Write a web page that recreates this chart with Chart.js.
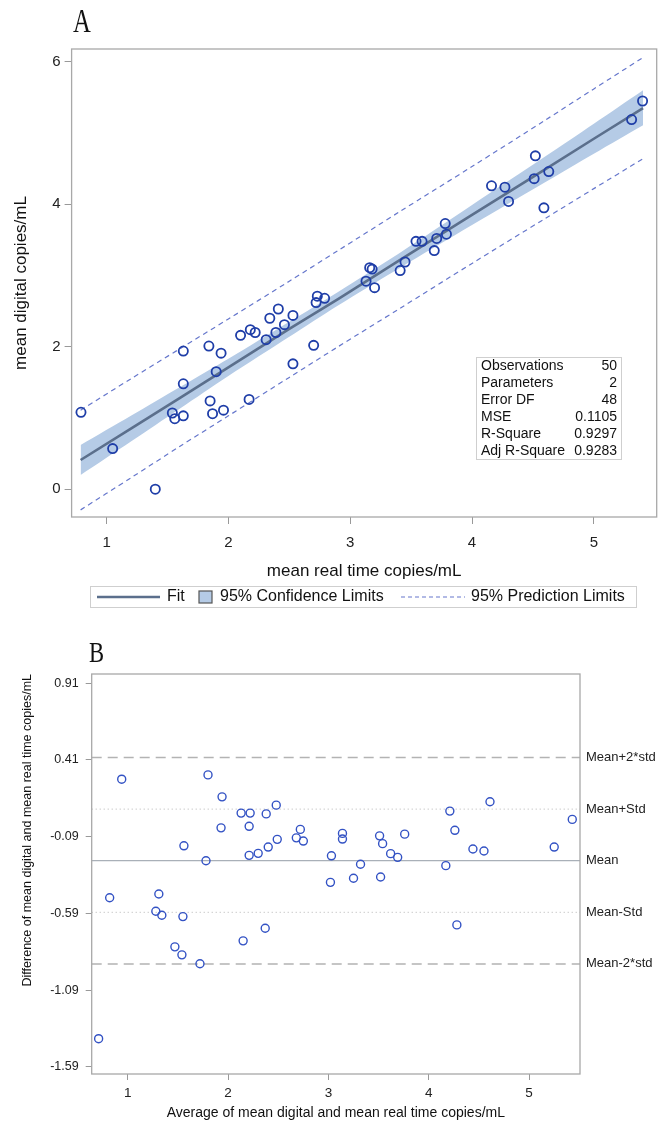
<!DOCTYPE html>
<html><head><meta charset="utf-8">
<script src="https://cdn.jsdelivr.net/npm/chart.js@4.4.1/dist/chart.umd.min.js"></script>
<style>
html,body{margin:0;padding:0;background:#fff;width:665px;height:1124px;overflow:hidden}
canvas{position:absolute;left:0}
#ca{top:0}
#cb{top:615px}
</style></head>
<body>
<canvas id="ca" width="665" height="615"></canvas>
<canvas id="cb" width="665" height="509"></canvas>
<script>
// ---------- Panel A data ----------
const realA = [0.79,1.05,1.40,1.54,1.56,1.63,1.63,1.63,1.84,1.94,1.90,1.85,1.87,1.96,2.10,2.18,2.22,2.34,2.31,2.39,2.46,2.17,2.53,2.70,2.41,2.53,2.73,2.79,2.72,3.13,3.20,3.16,3.18,3.41,3.45,3.54,3.59,3.69,3.71,3.78,3.79,4.16,4.27,4.30,4.51,4.52,4.59,4.63,5.31,5.40];
const digitalA = [1.08,0.57,0.00,1.07,0.99,1.03,1.48,1.94,2.01,1.91,1.65,1.24,1.06,1.11,2.16,2.24,2.20,2.40,2.10,2.20,2.31,1.26,1.76,2.02,2.53,2.44,2.71,2.68,2.62,2.92,2.83,3.11,3.09,3.07,3.19,3.48,3.48,3.35,3.52,3.73,3.58,4.26,4.24,4.04,4.36,4.68,3.95,4.46,5.19,5.45];
const fitX    = [0.787,1.2,1.6,2.0,2.5,2.9,3.4,4.0,4.6,5.0,5.404];
const fitY    = [0.41,0.85,1.28,1.71,2.25,2.67,3.21,3.85,4.49,4.92,5.35];
const clLower = [0.20,0.67,1.13,1.59,2.14,2.58,3.10,3.71,4.31,4.71,5.11];
const clUpper = [0.62,1.03,1.43,1.83,2.35,2.77,3.31,3.99,4.67,5.13,5.60];
const plLower = [-0.29,0.16,0.60,1.03,1.57,2.00,2.53,3.17,3.80,4.22,4.64];
const plUpper = [1.11,1.55,1.97,2.39,2.92,3.35,3.89,4.53,5.18,5.62,6.06];
const xTicksA = [1,2,3,4,5];
const yTicksA = [0,2,4,6];
const statLabels = ['Observations','Parameters','Error DF','MSE','R-Square','Adj R-Square'];
const statValues = ['50','2','48','0.1105','0.9297','0.9283'];
const legendLabelsA = ['Fit','95% Confidence Limits','95% Prediction Limits'];

// ---------- Panel B data ----------
const avgB = [0.94,1.80,1.94,2.13,2.22,2.38,2.48,1.93,2.21,2.72,3.14,3.14,1.56,1.78,2.21,2.30,2.40,2.49,2.68,2.75,3.03,3.02,3.25,3.32,0.82,1.31,1.28,1.34,1.55,2.37,2.15,1.47,1.54,1.72,0.71,4.61,4.21,5.43,4.26,3.51,3.76,3.54,4.44,4.55,5.25,3.62,3.69,4.17,3.52,4.28];
const diffB = [0.284,0.312,0.169,0.063,0.063,0.058,0.115,-0.033,-0.023,-0.043,-0.069,-0.106,-0.150,-0.247,-0.212,-0.199,-0.158,-0.108,-0.098,-0.119,-0.215,-0.388,-0.361,-0.270,-0.488,-0.464,-0.576,-0.602,-0.611,-0.687,-0.769,-0.808,-0.860,-0.918,-1.406,0.137,0.076,0.022,-0.049,-0.085,-0.074,-0.136,-0.171,-0.184,-0.158,-0.201,-0.225,-0.279,-0.353,-0.665];
const refValuesB = [0.425,0.089,-0.247,-0.583,-0.919];
const refLabelsB = ['Mean+2*std','Mean+Std','Mean','Mean-Std','Mean-2*std'];
const xTicksB = [1,2,3,4,5];
const yTicksB = [-1.59,-1.09,-0.59,-0.09,0.41,0.91];

const FAM = '"Liberation Sans", Arial, sans-serif';
Chart.defaults.font.family = FAM;
Chart.defaults.color = '#333';

const pts = (xs, ys) => xs.map((x, i) => ({x, y: ys[i]}));

// ---------- Panel A ----------
const extrasA = {
  id: 'extrasA',
  afterDraw(chart) {
    const {ctx, chartArea: ca} = chart;
    ctx.save();
    ctx.strokeStyle = '#a8a8a8'; ctx.lineWidth = 1.3;
    ctx.strokeRect(ca.left, ca.top, ca.right - ca.left, ca.bottom - ca.top);
    // panel letter
    ctx.save();
    ctx.translate(73, 32); ctx.scale(0.75, 1);
    ctx.font = '33px "Liberation Serif", serif'; ctx.fillStyle = '#111';
    ctx.textBaseline = 'alphabetic'; ctx.fillText('A', 0, 0);
    ctx.restore();
    // stats box
    ctx.fillStyle = '#fff';
    ctx.fillRect(476, 357, 145, 102);
    ctx.strokeStyle = '#cfcfcf'; ctx.lineWidth = 1;
    ctx.strokeRect(476.5, 357.5, 145, 102);
    ctx.font = '14px ' + FAM; ctx.fillStyle = '#111'; ctx.textBaseline = 'middle';
    statLabels.forEach((t, i) => {
      const y = 366.5 + i * 17;
      ctx.textAlign = 'left'; ctx.fillText(t, 481, y);
      ctx.textAlign = 'right'; ctx.fillText(statValues[i], 617, y);
    });
    // legend
    ctx.strokeStyle = '#cfcfcf'; ctx.lineWidth = 1;
    ctx.strokeRect(90.5, 586.5, 546, 21);
    const ly = 597;
    ctx.strokeStyle = '#5b6f8c'; ctx.lineWidth = 2.5;
    ctx.beginPath(); ctx.moveTo(97, ly); ctx.lineTo(160, ly); ctx.stroke();
    ctx.fillStyle = '#b5cbe6'; ctx.fillRect(199, 591, 13, 12);
    ctx.strokeStyle = '#555'; ctx.lineWidth = 1.2; ctx.strokeRect(199, 591, 13, 12);
    ctx.strokeStyle = '#6677cc'; ctx.lineWidth = 1.2; ctx.setLineDash([4, 3]);
    ctx.beginPath(); ctx.moveTo(401, ly); ctx.lineTo(465, ly); ctx.stroke();
    ctx.setLineDash([]);
    ctx.font = '16px ' + FAM; ctx.fillStyle = '#111'; ctx.textAlign = 'left'; ctx.textBaseline = 'middle';
    ctx.fillText(legendLabelsA[0], 167, ly);
    ctx.fillText(legendLabelsA[1], 220, ly);
    ctx.fillText(legendLabelsA[2], 471, ly);
    ctx.restore();
  }
};

new Chart(document.getElementById('ca'), {
  type: 'scatter',
  data: {
    datasets: [
      { label: 'obs', data: pts(realA, digitalA), showLine: false, pointRadius: 4.6, pointHoverRadius: 4.6,
        pointBorderWidth: 1.8, borderColor: '#1f3ea8', backgroundColor: 'rgba(0,0,0,0)' },
      { label: 'Fit', data: pts(fitX, fitY), showLine: true, borderColor: '#5b6f8c', borderWidth: 2.6,
        pointRadius: 0, fill: false },
      { label: 'plU', data: pts(fitX, plUpper), showLine: true, borderColor: '#6677cc', borderWidth: 1.2,
        borderDash: [5, 4], pointRadius: 0, fill: false, tension: 0.3 },
      { label: 'plL', data: pts(fitX, plLower), showLine: true, borderColor: '#6677cc', borderWidth: 1.2,
        borderDash: [5, 4], pointRadius: 0, fill: false, tension: 0.3 },
      { label: 'clU', data: pts(fitX, clUpper), showLine: true, borderWidth: 0, borderColor: 'rgba(0,0,0,0)',
        backgroundColor: '#b5cbe6', pointRadius: 0, fill: '+1', tension: 0.3 },
      { label: 'clL', data: pts(fitX, clLower), showLine: true, borderWidth: 0, borderColor: 'rgba(0,0,0,0)',
        pointRadius: 0, fill: false, tension: 0.3 }
    ]
  },
  options: {
    responsive: false, animation: false, devicePixelRatio: 1,
    layout: { padding: { top: 49, right: 8.3, left: 0, bottom: 30 } },
    plugins: { legend: { display: false }, tooltip: { enabled: false } },
    scales: {
      x: {
        type: 'linear', min: 0.713, max: 5.516,
        afterBuildTicks: s => { s.ticks = xTicksA.map(v => ({ value: v })); },
        afterFit: s => { s.height = 68; },
        ticks: { font: { size: 15 }, color: '#222', padding: 10, maxRotation: 0, autoSkip: false },
        grid: { drawOnChartArea: false, drawTicks: true, tickLength: 7, color: '#999', tickColor: '#999' },
        border: { display: false },
        title: { display: true, text: 'mean real time copies/mL', font: { size: 17 }, color: '#111', padding: { top: 0, bottom: 3 } }
      },
      y: {
        type: 'linear', min: -0.39, max: 6.18,
        afterBuildTicks: s => { s.ticks = yTicksA.map(v => ({ value: v })); },
        afterFit: s => { s.width = 71.6; },
        ticks: { font: { size: 15 }, color: '#222', padding: 4, autoSkip: false },
        grid: { drawOnChartArea: false, drawTicks: true, tickLength: 7, color: '#999', tickColor: '#999' },
        border: { display: false },
        title: { display: true, text: 'mean digital copies/mL', font: { size: 17 }, color: '#111', padding: { top: 11, bottom: 0 } }
      }
    }
  },
  plugins: [extrasA]
});

// ---------- Panel B ----------
const bXMin = 0.641, bXMax = 5.507;
const refStyles = [
  { c: '#b3b3b3', w: 1.5, d: [10, 6] },
  { c: '#b3b3b3', w: 1.0, d: [1, 3] },
  { c: '#a9b0b8', w: 1.3, d: [] },
  { c: '#b3b3b3', w: 1.0, d: [1, 3] },
  { c: '#b3b3b3', w: 1.5, d: [10, 6] }
];
const extrasB = {
  id: 'extrasB',
  afterDraw(chart) {
    const {ctx, chartArea: ca, scales} = chart;
    ctx.save();
    ctx.strokeStyle = '#a8a8a8'; ctx.lineWidth = 1.3;
    ctx.strokeRect(ca.left, ca.top, ca.right - ca.left, ca.bottom - ca.top);
    ctx.save();
    ctx.translate(89, 47); ctx.scale(0.78, 1);
    ctx.font = '29px "Liberation Serif", serif'; ctx.fillStyle = '#111';
    ctx.textBaseline = 'alphabetic'; ctx.fillText('B', 0, 0);
    ctx.restore();
    ctx.font = '13px ' + FAM; ctx.fillStyle = '#222'; ctx.textAlign = 'left'; ctx.textBaseline = 'middle';
    refValuesB.forEach((v, i) => {
      ctx.fillText(refLabelsB[i], ca.right + 6, scales.y.getPixelForValue(v));
    });
    ctx.restore();
  }
};

const bDatasets = [
  { label: 'diff', data: pts(avgB, diffB), showLine: false, pointRadius: 4, pointHoverRadius: 4,
    pointBorderWidth: 1.4, borderColor: '#3352c4', backgroundColor: 'rgba(0,0,0,0)' }
];
refValuesB.forEach((v, i) => {
  bDatasets.push({ label: refLabelsB[i], data: [{ x: bXMin, y: v }, { x: bXMax, y: v }], showLine: true,
    borderColor: refStyles[i].c, borderWidth: refStyles[i].w, borderDash: refStyles[i].d, pointRadius: 0, fill: false });
});

new Chart(document.getElementById('cb'), {
  type: 'scatter',
  data: { datasets: bDatasets },
  options: {
    responsive: false, animation: false, devicePixelRatio: 1,
    layout: { padding: { top: 59, right: 85, left: 0, bottom: 0 } },
    plugins: { legend: { display: false }, tooltip: { enabled: false } },
    scales: {
      x: {
        type: 'linear', min: bXMin, max: bXMax,
        afterBuildTicks: s => { s.ticks = xTicksB.map(v => ({ value: v })); },
        afterFit: s => { s.height = 50; },
        ticks: { font: { size: 13.5 }, color: '#222', padding: 5, maxRotation: 0, autoSkip: false },
        grid: { drawOnChartArea: false, drawTicks: true, tickLength: 6, color: '#999', tickColor: '#999' },
        border: { display: false },
        title: { display: true, text: 'Average of mean digital and mean real time copies/mL', font: { size: 14 }, color: '#111', padding: { top: 0, bottom: 2 } }
      },
      y: {
        type: 'linear', min: -1.636, max: 0.969,
        afterBuildTicks: s => { s.ticks = yTicksB.map(v => ({ value: v })); },
        afterFit: s => { s.width = 91.7; },
        ticks: { font: { size: 12.5 }, color: '#222', padding: 7, autoSkip: false, callback: v => v.toFixed(2) },
        grid: { drawOnChartArea: false, drawTicks: true, tickLength: 6, color: '#999', tickColor: '#999' },
        border: { display: false },
        title: { display: true, align: 'end', text: 'Difference of mean digital and mean real time copies/mL', font: { size: 12.5 }, color: '#111', padding: { top: 20, bottom: 0 } }
      }
    }
  },
  plugins: [extrasB]
});
</script>
</body></html>
